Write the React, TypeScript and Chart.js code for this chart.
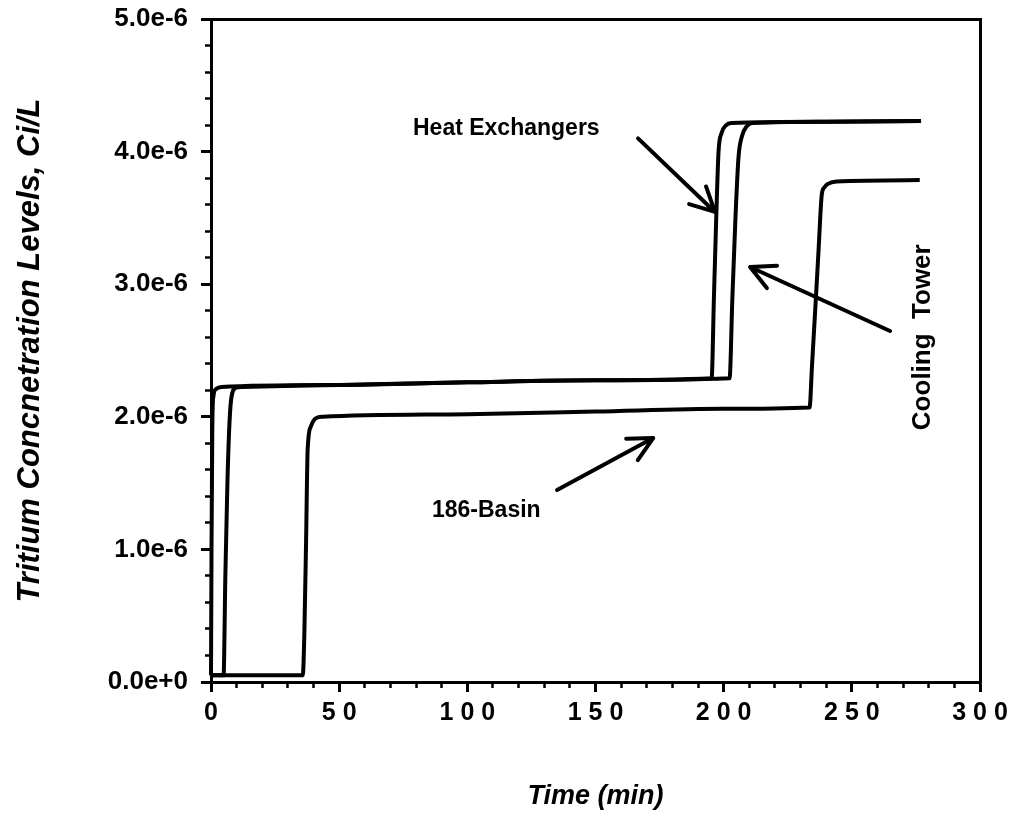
import React, { useEffect, useRef } from 'react';
import { Chart, registerables } from 'chart.js';

Chart.register(...registerables);

const FONT = '"Liberation Sans", Arial, Helvetica, sans-serif';

// ---- data (time in min, concentration in Ci/L) ----
const heatExchangerTime = [0, 0.2, 0.5, 0.9, 2, 4, 50, 100, 150, 195.3, 196.2, 197.1, 198, 199.2, 201, 203, 240, 277];
const heatExchangerConc = [0.05e-6, 1.0e-6, 1.9e-6, 2.15e-6, 2.21e-6, 2.225e-6, 2.24e-6, 2.26e-6, 2.275e-6, 2.29e-6, 2.9e-6, 3.5e-6, 4.0e-6, 4.14e-6, 4.2e-6, 4.215e-6, 4.225e-6, 4.23e-6];

const coolingTowerTime = [0, 4.9, 5.6, 6.4, 7.2, 8, 9.8, 12, 50, 100, 150, 202.3, 203.4, 204.6, 205.8, 207.2, 209, 211, 240, 277];
const coolingTowerConc = [0.05e-6, 0.05e-6, 0.8e-6, 1.5e-6, 1.95e-6, 2.15e-6, 2.22e-6, 2.225e-6, 2.24e-6, 2.26e-6, 2.275e-6, 2.29e-6, 2.9e-6, 3.5e-6, 3.96e-6, 4.12e-6, 4.19e-6, 4.215e-6, 4.225e-6, 4.23e-6];

const basinTime = [0, 35.8, 36.4, 37.1, 37.7, 39, 41, 43.6, 100, 150, 200, 233.5, 234.5, 235.7, 237, 238.3, 239.3, 240.5, 244, 276.5];
const basinConc = [0.05e-6, 0.05e-6, 0.35e-6, 1.07e-6, 1.75e-6, 1.93e-6, 1.99e-6, 2.0e-6, 2.02e-6, 2.04e-6, 2.06e-6, 2.07e-6, 2.4e-6, 2.8e-6, 3.25e-6, 3.68e-6, 3.73e-6, 3.755e-6, 3.775e-6, 3.785e-6];

const xTickLabels = ['0', '50', '100', '150', '200', '250', '300'];
const yTickLabels = ['0.0e+0', '1.0e-6', '2.0e-6', '3.0e-6', '4.0e-6', '5.0e-6'];

const xTitle = 'Time (min)';
const yTitle = 'Tritium Concnetration Levels, Ci/L';

const annotationLabels = ['Heat Exchangers', 'Cooling  Tower', '186-Basin'];

// annotation anchors in data coordinates
const ANNOT = {
  hxText: { t: 78.8, v: 4.17e-6 },
  hxArrow: { t1: 166.6, v1: 4.1e-6, t2: 196.6, v2: 3.545e-6 },
  ctText: { t: 277.8, v: 2.6e-6 },
  ctArrow: { t1: 264.9, v1: 2.647e-6, t2: 210.3, v2: 3.13e-6 },
  basinText: { t: 86.2, v: 1.29e-6 },
  basinArrow: { t1: 135, v1: 1.448e-6, t2: 172.5, v2: 1.84e-6 },
};

function toPoints(ts: number[], vs: number[]) {
  return ts.map((t, i) => ({ x: t, y: vs[i] }));
}

function drawArrow(ctx: CanvasRenderingContext2D, x1: number, y1: number, x2: number, y2: number) {
  const len = 27;
  const ang = 0.47;
  const a = Math.atan2(y1 - y2, x1 - x2);
  ctx.beginPath();
  ctx.moveTo(x1, y1);
  ctx.lineTo(x2, y2);
  ctx.moveTo(x2 + len * Math.cos(a + ang), y2 + len * Math.sin(a + ang));
  ctx.lineTo(x2, y2);
  ctx.lineTo(x2 + len * Math.cos(a - ang), y2 + len * Math.sin(a - ang));
  ctx.stroke();
}

const annotationPlugin = {
  id: 'annotations',
  afterDatasetsDraw(chart: any) {
    const { ctx } = chart;
    const x = chart.scales.x;
    const y = chart.scales.y;
    const px = (t: number) => x.getPixelForValue(t);
    const py = (v: number) => y.getPixelForValue(v);
    ctx.save();
    ctx.fillStyle = '#000';
    ctx.strokeStyle = '#000';
    ctx.lineWidth = 4;
    ctx.lineCap = 'round';
    ctx.lineJoin = 'round';
    ctx.textBaseline = 'middle';

    ctx.font = `bold 23px ${FONT}`;
    ctx.textAlign = 'left';
    ctx.fillText(annotationLabels[0], px(ANNOT.hxText.t), py(ANNOT.hxText.v));
    ctx.fillText(annotationLabels[2], px(ANNOT.basinText.t), py(ANNOT.basinText.v));

    ctx.save();
    ctx.font = `bold 26px ${FONT}`;
    ctx.textAlign = 'center';
    ctx.translate(px(ANNOT.ctText.t), py(ANNOT.ctText.v));
    ctx.rotate(-Math.PI / 2);
    ctx.fillText(annotationLabels[1], 0, 0);
    ctx.restore();

    const arrows = [ANNOT.hxArrow, ANNOT.ctArrow, ANNOT.basinArrow];
    arrows.forEach((a) => drawArrow(ctx, px(a.t1), py(a.v1), px(a.t2), py(a.v2)));
    ctx.restore();
  },
};

const letterSpacingPlugin = {
  id: 'xLetterSpacing',
  afterUpdate(chart: any) {
    const s = chart.scales.x;
    if (!s || s._lsPatched) return;
    const orig = s.drawLabels.bind(s);
    s.drawLabels = (area: any) => {
      const c = chart.ctx as any;
      c.save();
      c.letterSpacing = '7px';
      c.translate(3.5, 0);
      orig(area);
      c.restore();
    };
    s._lsPatched = true;
  },
};

function zeroPad(s: any) {
  s.paddingTop = 0;
  s.paddingBottom = 0;
  s.paddingLeft = 0;
  s.paddingRight = 0;
}

export default function App() {
  const canvasRef = useRef<HTMLCanvasElement | null>(null);

  useEffect(() => {
    if (!canvasRef.current) return;
    const lineStyle = {
      borderColor: '#000',
      borderWidth: 4,
      pointRadius: 0,
      fill: false,
      cubicInterpolationMode: 'monotone' as const,
      clip: false as any,
      xAxisID: 'x',
      yAxisID: 'y',
    };
    const tickFontY = { family: FONT, size: 26, weight: 'bold' as const };
    const tickFontX = { family: FONT, size: 25, weight: 'bold' as const };

    const chart = new Chart(canvasRef.current, {
      type: 'line',
      data: {
        datasets: [
          { label: 'Heat Exchangers', data: toPoints(heatExchangerTime, heatExchangerConc), ...lineStyle },
          { label: 'Cooling Tower', data: toPoints(coolingTowerTime, coolingTowerConc), ...lineStyle },
          { label: '186-Basin', data: toPoints(basinTime, basinConc), ...lineStyle },
        ],
      },
      options: {
        responsive: false,
        animation: false,
        events: [],
        layout: { padding: { top: 19, right: 37, left: 0, bottom: 0 } },
        plugins: { legend: { display: false }, tooltip: { enabled: false } },
        scales: {
          x: {
            type: 'linear',
            axis: 'x',
            position: 'bottom',
            weight: 1,
            min: 0,
            max: 300,
            ticks: {
              stepSize: 50,
              color: '#000',
              font: tickFontX,
              padding: 6,
              maxRotation: 0,
              callback: (_v: any, i: number) => xTickLabels[i],
            },
            grid: { display: true, drawOnChartArea: false, drawTicks: true, tickLength: 10, tickWidth: 3, tickColor: '#000', color: '#000' },
            border: { display: true, width: 3, color: '#000' },
            title: { display: true, text: xTitle, color: '#000', font: { family: FONT, size: 27, weight: 'bold', style: 'italic' }, padding: { top: 0, bottom: 4 } },
            afterFit: (s: any) => { s.height = 817 - 682; zeroPad(s); },
          },
          xMinor: {
            type: 'linear',
            axis: 'x',
            position: 'bottom',
            weight: 0,
            min: 0,
            max: 300,
            ticks: { stepSize: 10, display: false },
            grid: { display: true, drawOnChartArea: false, drawTicks: true, tickLength: 6, tickWidth: 2.5, tickColor: '#000', color: '#000' },
            border: { display: false },
            afterFit: (s: any) => { s.height = 0; zeroPad(s); },
          },
          xTop: {
            type: 'linear',
            axis: 'x',
            position: 'top',
            min: 0,
            max: 300,
            ticks: { display: false },
            grid: { display: false, drawTicks: false },
            border: { display: true, width: 3, color: '#000' },
            afterFit: (s: any) => { s.height = 0; zeroPad(s); },
          },
          y: {
            type: 'linear',
            axis: 'y',
            position: 'left',
            weight: 1,
            min: 0,
            max: 5e-6,
            ticks: {
              stepSize: 1e-6,
              color: '#000',
              font: tickFontY,
              padding: 13,
              callback: (_v: any, i: number) => yTickLabels[i],
            },
            grid: { display: true, drawOnChartArea: false, drawTicks: true, tickLength: 10, tickWidth: 3, tickColor: '#000', color: '#000' },
            border: { display: true, width: 3, color: '#000' },
            title: { display: true, text: yTitle, color: '#000', font: { family: FONT, size: 31, weight: 'bold', style: 'italic' }, padding: { top: 12, bottom: 0 } },
            afterFit: (s: any) => { s.width = 211; zeroPad(s); },
          },
          yMinor: {
            type: 'linear',
            axis: 'y',
            position: 'left',
            weight: 0,
            min: 0,
            max: 5e-6,
            ticks: { stepSize: 2e-7, display: false },
            grid: { display: true, drawOnChartArea: false, drawTicks: true, tickLength: 6, tickWidth: 2.5, tickColor: '#000', color: '#000' },
            border: { display: false },
            afterFit: (s: any) => { s.width = 0; zeroPad(s); },
          },
          yRight: {
            type: 'linear',
            axis: 'y',
            position: 'right',
            min: 0,
            max: 5e-6,
            ticks: { display: false },
            grid: { display: false, drawTicks: false },
            border: { display: true, width: 3, color: '#000' },
            afterFit: (s: any) => { s.width = 0; zeroPad(s); },
          },
        },
      } as any,
      plugins: [annotationPlugin, letterSpacingPlugin],
    });
    return () => chart.destroy();
  }, []);

  return (
    <div style={{ position: 'absolute', left: 0, top: 0, width: 1017, height: 817, background: '#fff' }}>
      <canvas ref={canvasRef} width={1017} height={817} style={{ display: 'block' }} />
    </div>
  );
}
